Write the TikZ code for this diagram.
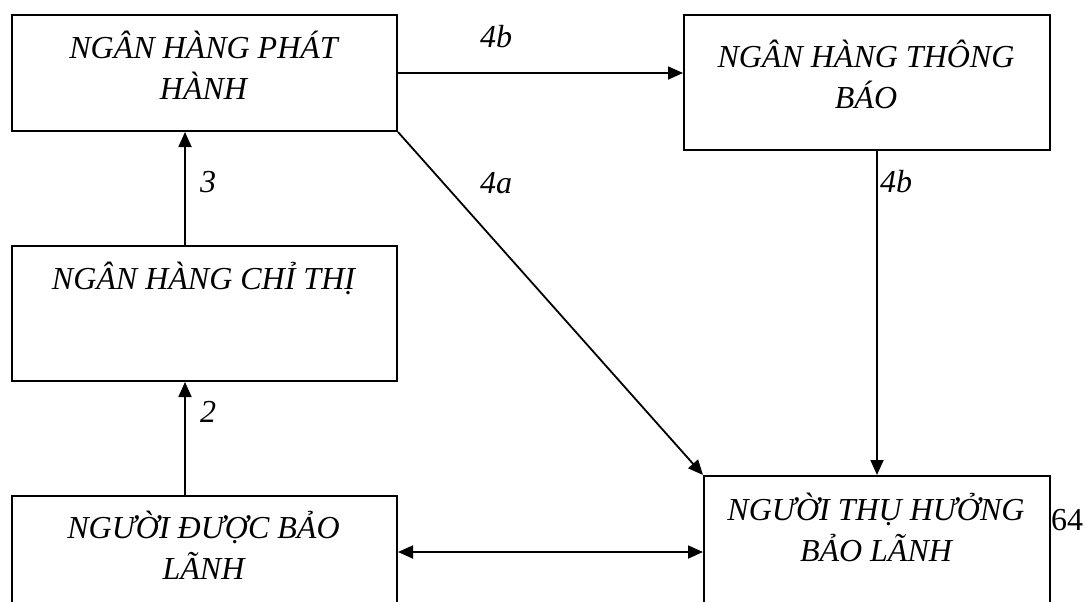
\documentclass[tikz,border=0pt]{standalone}
\usepackage{fontspec}
\setmainfont{Liberation Serif}
\usetikzlibrary{arrows.meta}
\begin{document}
\begin{tikzpicture}[x=1pt,y=-1pt,
  box/.style={draw, line width=2pt, inner sep=0pt, anchor=north west},
  boxtext/.style={inner sep=0pt, anchor=base, font=\fontsize{32}{41}\selectfont\itshape},
  lbl/.style={inner sep=0pt, anchor=base west, font=\fontsize{32}{41}\selectfont\itshape},
  tip/.tip={Triangle[length=15pt,width=13pt]},
  arr/.style={line width=1.8pt, -tip},
  dbl/.style={line width=1.8pt, tip-tip}]
\clip (0,0) rectangle (1085,602);
\fill[white] (0,0) rectangle (1085,602);
% boxes
\node[box, minimum width=385pt, minimum height=116pt] (b1) at (11,14) {};
\node[box, minimum width=366pt, minimum height=135pt] (b2) at (683,14) {};
\node[box, minimum width=385pt, minimum height=135pt] (b3) at (11,245) {};
\node[box, minimum width=385pt, minimum height=160pt] (b4) at (11,495) {};
\node[box, minimum width=346pt, minimum height=180pt] (b5) at (703,475) {};
% box texts
\node[boxtext] (t1) at (203.5,59) {\begin{tabular}[t]{@{}c@{}}NGÂN HÀNG PHÁT\\HÀNH\end{tabular}};
\node[boxtext] (t2) at (866,68) {\begin{tabular}[t]{@{}c@{}}NGÂN HÀNG THÔNG\\BÁO\end{tabular}};
\node[boxtext] (t3) at (203.5,289) {NGÂN HÀNG CHỈ THỊ};
\node[boxtext] (t4) at (203.5,538) {\begin{tabular}[t]{@{}c@{}}NGƯỜI ĐƯỢC BẢO\\LÃNH\end{tabular}};
\node[boxtext] (t5) at (876,520) {\begin{tabular}[t]{@{}c@{}}NGƯỜI THỤ HƯỞNG\\BẢO LÃNH\end{tabular}};
% connectors
\draw[arr] ([xshift=-19.5pt]b3.north) -- ([xshift=-19.5pt]b1.south);
\draw[arr] ([xshift=-19.5pt]b4.north) -- ([xshift=-19.5pt]b3.south);
\draw[arr] (b1.east) -- (b1.east -| b2.west);
\draw[arr] (b1.south east) -- (b5.north west);
\draw[arr] (b5.north |- b2.south) -- (b5.north);
\draw[dbl] (b4.east |- 0,552) -- (b5.west |- 0,552);
% labels
\node[lbl] (l4bt) at (480,48) {4b};
\node[lbl] (l4a) at (480,193) {4a};
\node[lbl] (l3) at (200,192) {3};
\node[lbl] (l2) at (200,422) {2};
\node[lbl] (l4br) at (880,192) {4b};
\node[inner sep=0pt, anchor=base west, font=\fontsize{32}{41}\selectfont] (p64) at (1051,530) {64};
\end{tikzpicture}
\end{document}
